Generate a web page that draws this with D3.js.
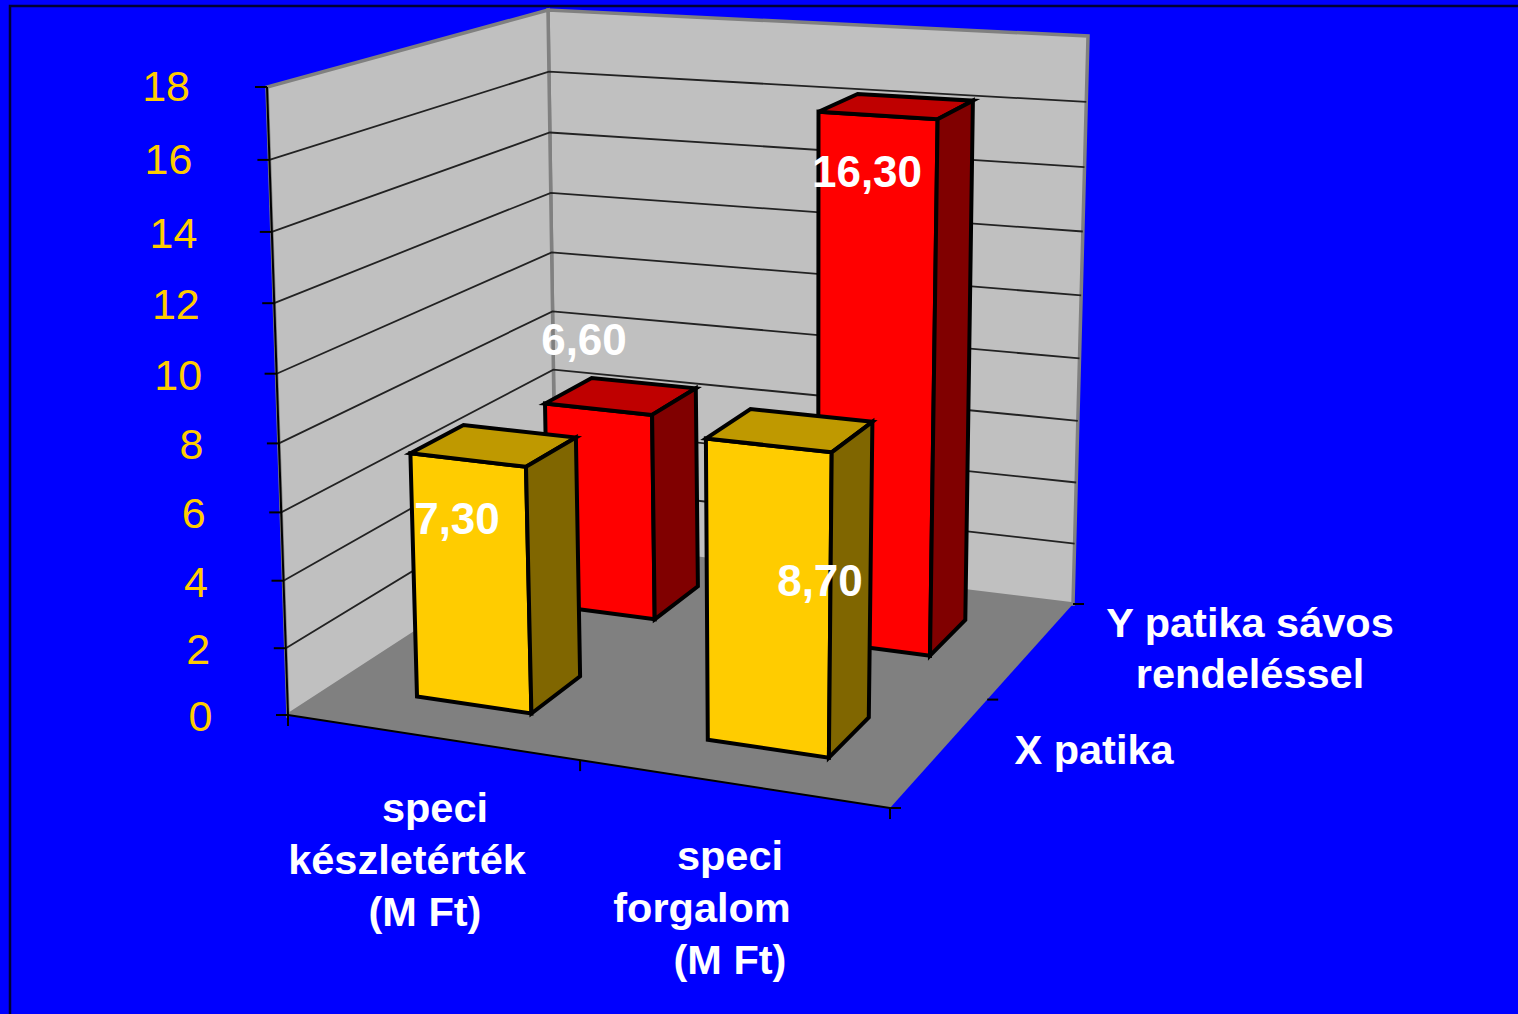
<!DOCTYPE html>
<html><head><meta charset="utf-8">
<script src="https://cdnjs.cloudflare.com/ajax/libs/d3/7.8.5/d3.min.js"></script>
<style>html,body{margin:0;padding:0;background:#0000FF;overflow:hidden}svg{display:block}text{font-family:"Liberation Sans",Arial,sans-serif}</style>
</head><body><svg id="c" width="1518" height="1014"></svg>
<script>
const categories = ["speci készletérték (M Ft)", "speci forgalom (M Ft)"];
const seriesNames = ["X patika", "Y patika sávos rendeléssel"];
const xPatika = [7.3, 8.7];
const yPatika = [6.6, 16.3];
const valueLabels = { "X patika": ["7,30", "8,70"], "Y patika sávos rendeléssel": ["6,60", "16,30"] };
const yTicks = [0, 2, 4, 6, 8, 10, 12, 14, 16, 18];

const floorCorners = [[288,715],[890,808],[1073,604],[556,541]];
const ceilCorners  = [[267,87],[905,135],[1088,36],[548,10]];
function homography(q){
  const [[x0,y0],[x1,y1],[x2,y2],[x3,y3]] = q;
  const dx1=x1-x2, dx2=x3-x2, sx=x0-x1+x2-x3, dy1=y1-y2, dy2=y3-y2, sy=y0-y1+y2-y3;
  const den=dx1*dy2-dx2*dy1;
  const g=(sx*dy2-dx2*sy)/den, h=(dx1*sy-sx*dy1)/den;
  const a=x1-x0+g*x1, b=x3-x0+h*x3, d=y1-y0+g*y1, e=y3-y0+h*y3;
  return (u,w)=>{const t=g*u+h*w+1;return [(a*u+b*w+x0)/t,(d*u+e*w+y0)/t];};
}
function bilinear(q){
  return (u,w)=>[0,1].map(k=>(1-u)*(1-w)*q[0][k]+u*(1-w)*q[1][k]+u*w*q[2][k]+(1-u)*w*q[3][k]);
}
const blendAmt=0.35;
function mapper(q){
  const h=homography(q), b=bilinear(q);
  return (u,w)=>{const A=h(u,w),B=b(u,w);return [A[0]+(B[0]-A[0])*blendAmt,A[1]+(B[1]-A[1])*blendAmt];};
}
const H0=mapper(floorCorners), H1=mapper(ceilCorners);
const vScale=d3.scaleLinear().domain([0,18]).range([0,1]);
const persp=1.05;
function P(u,w,val){
  const v=vScale(val), vp=v/(v+persp*(1-v));
  const a=H0(u,w), b=H1(u,w);
  return [a[0]+(b[0]-a[0])*vp, a[1]+(b[1]-a[1])*vp];
}
const uScale=d3.scaleBand().domain(categories).range([0.146,0.848]).paddingInner(0.6);
const wScale=d3.scaleBand().domain(seriesNames).range([0.16,0.855]).paddingInner(0.62);
const poly=pts=>"M"+pts.map(p=>p[0].toFixed(1)+","+p[1].toFixed(1)).join("L")+"Z";
const line=pts=>"M"+pts.map(p=>p[0].toFixed(1)+","+p[1].toFixed(1)).join("L");

const svg=d3.select("#c");
svg.append("path").attr("d","M10,1014L10,6L1518,6").attr("fill","none").attr("stroke","#000033").attr("stroke-width",2.5);

// walls and floor
svg.append("path").attr("d",poly([P(0,1,0),P(1,1,0),P(1,1,18),P(0,1,18)])).attr("fill","#C0C0C0").attr("stroke","#808080").attr("stroke-width",3.5);
svg.append("path").attr("d",poly([P(0,0,0),P(0,1,0),P(0,1,18),P(0,0,18)])).attr("fill","#C0C0C0").attr("stroke","#808080").attr("stroke-width",3.5);
svg.append("path").attr("d",poly([P(0,0,0),P(1,0,0),P(1,1,0),P(0,1,0)])).attr("fill","#808080");

// gridlines
const grid=svg.append("g").attr("fill","none").attr("stroke","#222").attr("stroke-width",1.8);
grid.selectAll("path").data(yTicks.filter(t=>t>0&&t<18)).join("path").attr("d",t=>line([P(0,0,t),P(0,1,t),P(1,1,t)]));

// axes
const axis=svg.append("g").attr("fill","none").attr("stroke","#000").attr("stroke-width",2);
axis.append("path").attr("d",line([P(0,0,0),P(0,0,18)]));
axis.append("path").attr("d",line([P(0,0,0),P(1,0,0)]));
axis.selectAll(".yt").data(yTicks).join("path").attr("class","yt").attr("d",t=>{const p=P(0,0,t);return line([[p[0]-12,p[1]],p]);});
axis.selectAll(".xt").data([0,0.5,1]).join("path").attr("class","xt").attr("d",u=>{const p=P(u,0,0);return line([p,[p[0],p[1]+11]]);});
axis.selectAll(".zt").data([0,0.5,1]).join("path").attr("class","zt").attr("d",w=>{const p=P(1,w,0);return line([p,[p[0]+11,p[1]]]);});

// bars, back row first
const palette={ "X patika":["#FFCC00","#BF9900","#806600"], "Y patika sávos rendeléssel":["#FF0000","#BF0000","#800000"] };
const rows=[["Y patika sávos rendeléssel",yPatika],["X patika",xPatika]];
rows.forEach(([name,vals])=>{
  const g=svg.append("g").attr("stroke","#000").attr("stroke-width",4).attr("stroke-linejoin","miter");
  const [cf,ct,cs]=palette[name];
  const w0=wScale(name), w1=w0+wScale.bandwidth();
  categories.forEach((c,i)=>{
    const u0=uScale(c), u1=u0+uScale.bandwidth(), v=vals[i];
    g.append("path").attr("d",poly([P(u0,w0,0),P(u1,w0,0),P(u1,w0,v),P(u0,w0,v)])).attr("fill",cf);
    g.append("path").attr("d",poly([P(u0,w0,v),P(u1,w0,v),P(u1,w1,v),P(u0,w1,v)])).attr("fill",ct);
    g.append("path").attr("d",poly([P(u1,w0,0),P(u1,w1,0),P(u1,w1,v),P(u1,w0,v)])).attr("fill",cs);
  });
});

// text
svg.append("g").attr("fill","#FFCC00").attr("font-size",43).attr("text-anchor","end").attr("dominant-baseline","central")
  .selectAll("text").data(yTicks).join("text").attr("x",t=>P(0,0,t)[0]-(t>=16?77:t>=10?74.5:75.5)).attr("y",t=>P(0,0,t)[1]+(t>=16?-1:1)).text(d=>d);

const labelSpots=[
  ["X patika",0,457,518],["X patika",1,820,580],
  ["Y patika sávos rendeléssel",0,584,339],["Y patika sávos rendeléssel",1,867,171]];
svg.append("g").attr("fill","#fff").attr("font-weight","bold").attr("font-size",44).attr("text-anchor","middle").attr("dominant-baseline","central")
  .selectAll("text").data(labelSpots).join("text").attr("x",d=>d[2]).attr("y",d=>d[3]).text(d=>valueLabels[d[0]][d[1]]);

const axisLines=[
  ["speci",435,807],["készletérték",407,859],["(M Ft)",425,911],
  ["speci",730,855],["forgalom",702,907],["(M Ft)",730,959],
  ["Y patika sávos",1250,622],["rendeléssel",1250,673],["X patika",1094,749]];
svg.append("g").attr("fill","#fff").attr("font-weight","bold").attr("font-size",41.5).attr("text-anchor","middle").attr("dominant-baseline","central")
  .selectAll("text").data(axisLines).join("text").attr("x",d=>d[1]).attr("y",d=>d[2]).text(d=>d[0]);
</script></body></html>
